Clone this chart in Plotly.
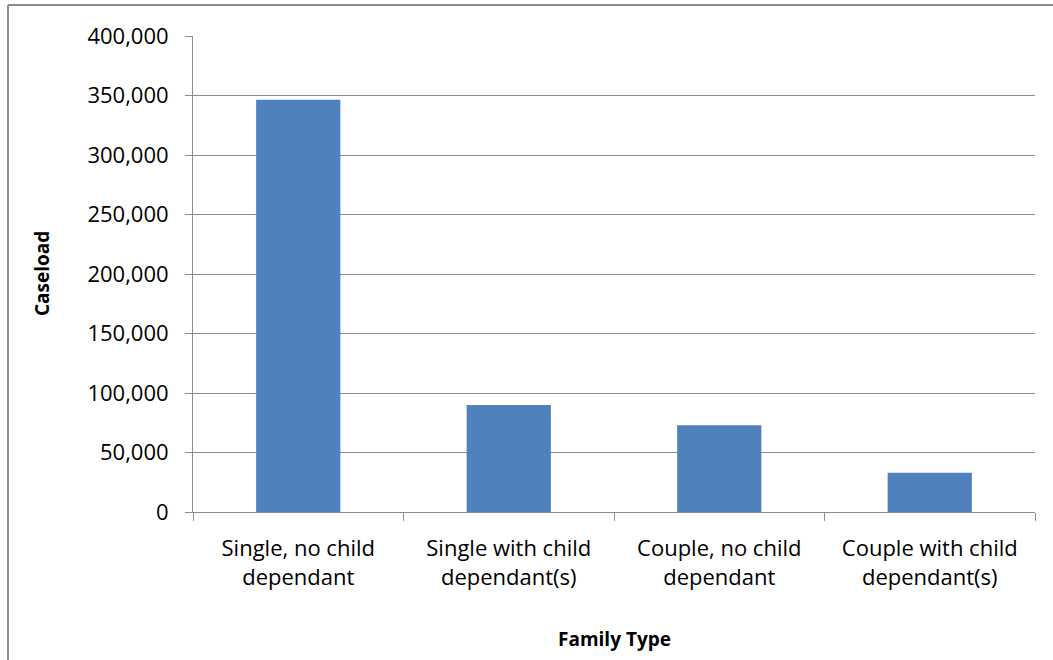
import plotly.graph_objects as go

categories = ["Single, no child<br>dependant", "Single with child<br>dependant(s)",
              "Couple, no child<br>dependant", "Couple with child<br>dependant(s)"]
caseload = [346500, 90000, 73000, 33000]
y_ticks = [0, 50000, 100000, 150000, 200000, 250000, 300000, 350000, 400000]

W, H = 1053, 660
L, R, T, B = 193, 18, 36, 148
pw, ph = W - L - R, H - T - B

fig = go.Figure(go.Bar(x=categories, y=caseload, marker=dict(color="#4F81BD", line=dict(width=0)),
                       width=0.4))

grid = "#8C8C8C"
fig.update_layout(
    width=W, height=H,
    margin=dict(l=L, r=R, t=T, b=B, pad=0),
    paper_bgcolor="white", plot_bgcolor="white",
    showlegend=False,
    font=dict(family="Open Sans", color="#000000"),
)
fig.update_yaxes(range=[0, 400000], tickvals=y_ticks, tickformat=",",
                 showgrid=True, gridcolor=grid, gridwidth=1,
                 showline=True, linecolor=grid, linewidth=1,
                 ticks="outside", ticklen=7, tickcolor=grid,
                 tickfont=dict(size=22, family="Open Sans"),
                 ticklabelstandoff=12, zeroline=False)
fig.update_xaxes(showline=True, linecolor=grid, linewidth=1,
                 ticks="outside", ticklen=8, tickcolor=grid, tickson="boundaries",
                 tickfont=dict(size=22, family="Open Sans"), ticklabelstandoff=17,
                 showgrid=False)

# axis titles
fig.add_annotation(text="<b>Caseload</b>", xref="paper", yref="paper",
                   x=(27 - L) / pw, y=0.5, textangle=-90, showarrow=False,
                   font=dict(size=19, family="Open Sans"))
fig.add_annotation(text="<b>Family Type</b>", xref="paper", yref="paper",
                   x=(614 - L) / pw, y=-(654 - (H - B)) / ph, showarrow=False,
                   font=dict(size=19, family="Open Sans"))

# outer chart border (only left and top edges fall inside the window)
bx0 = (8 - L) / pw
by1 = ((H - B) - 5) / ph
fig.add_shape(type="line", xref="paper", yref="paper",
              x0=bx0, x1=bx0, y0=-(H + 20 - (H - B)) / ph, y1=by1,
              line=dict(color="#8C8C8C", width=2))
fig.add_shape(type="line", xref="paper", yref="paper",
              x0=bx0, x1=(W + 20 - L) / pw, y0=by1, y1=by1,
              line=dict(color="#8C8C8C", width=2))

fig.write_html("out.html")
